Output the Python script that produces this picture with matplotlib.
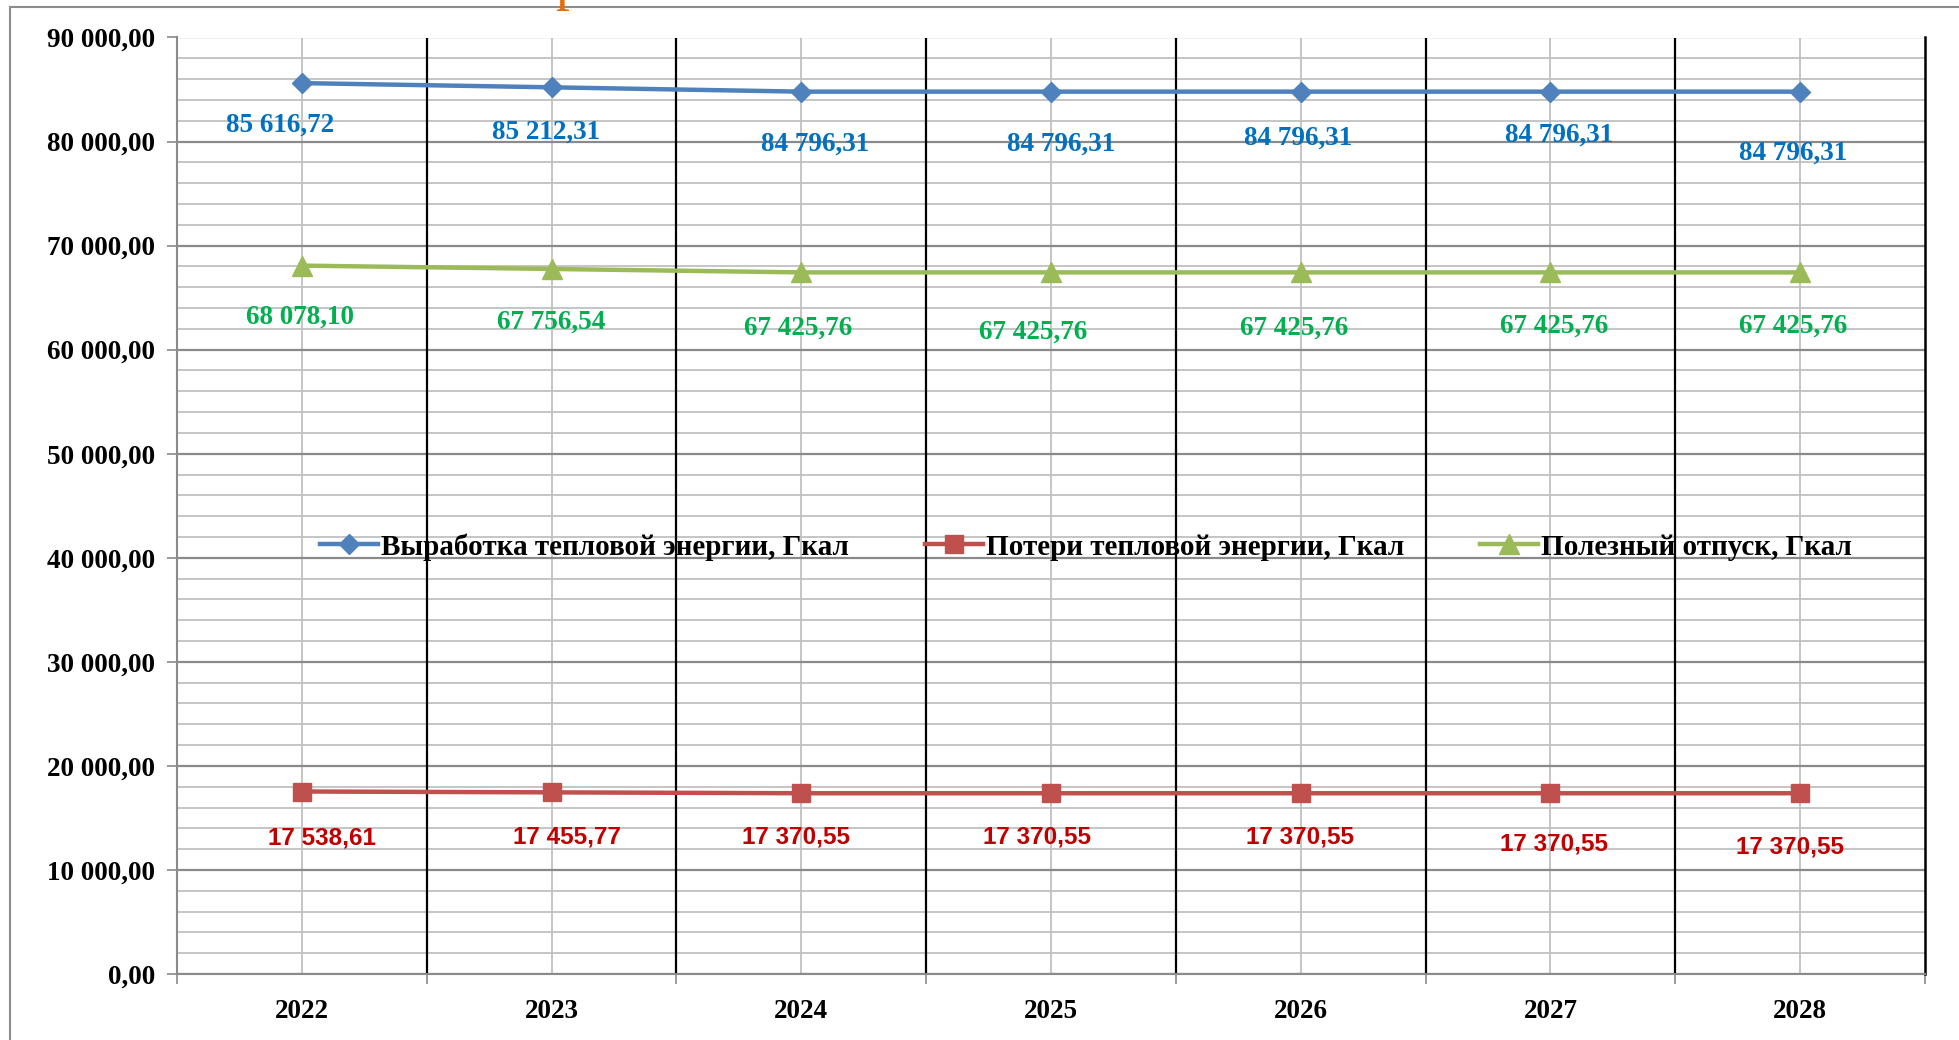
import matplotlib
matplotlib.use("Agg")
import matplotlib.pyplot as plt
from matplotlib.ticker import MultipleLocator, FuncFormatter
from matplotlib.patches import Rectangle

# данные
years = ["2022", "2023", "2024", "2025", "2026", "2027", "2028"]
vyrabotka = [85616.72, 85212.31, 84796.31, 84796.31, 84796.31, 84796.31, 84796.31]
poteri = [17538.61, 17455.77, 17370.55, 17370.55, 17370.55, 17370.55, 17370.55]
otpusk = [68078.10, 67756.54, 67425.76, 67425.76, 67425.76, 67425.76, 67425.76]
names = ["Выработка тепловой энергии, Гкал", "Потери тепловой энергии, Гкал", "Полезный отпуск, Гкал"]

# сдвиги подписей (в пикселях)
off_blue = [(-22, -42), (-6, -45), (14, -53), (10, -53), (-3, -47), (9, -44), (-7, -62)]
off_green = [(-2, -52), (0, -53), (-3, -56), (-18, -60), (-7, -56), (4, -54), (-7, -54)]
off_red = [(20, -46), (15, -45), (-5, -44), (-14, -44), (-1, -44), (4, -51), (-10, -54)]

def fmt(v, pos=None):
    s = f"{v:,.2f}"
    return s.replace(",", " ").replace(".", ",")

serif = "Liberation Serif"

fig = plt.figure(figsize=(19.59, 10.40), dpi=100)
ax = fig.add_axes([177 / 1959, 66 / 1040, 1748 / 1959, 936.5 / 1040])

# рамка вокруг диаграммы
fig.patches.append(Rectangle((10 / 1959, -0.1), 1.2, 1.1 - 7 / 1040, transform=fig.transFigure,
                             fill=False, edgecolor="#8c8c8c", linewidth=1.5))
# обрезанный кусок заголовка сверху
fig.text(569 / 1959, 1.0 + 1 / 1040, "р", color="#E46C0A", fontsize=40, family=serif,
         ha="center", va="baseline")

x = list(range(len(years)))
ax.set_xlim(-0.5, len(years) - 0.5)
ax.set_ylim(0, 90000)

# сетка
ax.yaxis.set_major_locator(MultipleLocator(10000))
ax.yaxis.set_minor_locator(MultipleLocator(2000))
ax.grid(which="minor", axis="y", color="#c0c0c0", linewidth=1.3)
ax.grid(which="major", axis="y", color="#8a8a8a", linewidth=1.6)
ax.set_xticks(x)
ax.set_xticklabels(years)
ax.set_xticks([i - 0.5 for i in range(len(years) + 1)], minor=True)
ax.grid(which="major", axis="x", color="#c0c0c0", linewidth=1.3)
for b in range(1, len(years)):
    ax.axvline(b - 0.5, color="black", linewidth=1.6, zorder=1)
ax.set_axisbelow(True)

ax.spines["top"].set_visible(False)
ax.spines["right"].set_color("black")
ax.spines["right"].set_linewidth(1.8)
ax.spines["left"].set_color("#8a8a8a")
ax.spines["bottom"].set_color("#8a8a8a")
ax.spines["left"].set_linewidth(1.5)
ax.spines["bottom"].set_linewidth(1.5)

ax.yaxis.set_major_formatter(FuncFormatter(fmt))
ax.tick_params(axis="y", which="major", length=7, color="#8a8a8a", width=1.2, pad=9)
ax.tick_params(axis="y", which="minor", length=0)
ax.tick_params(axis="x", which="major", length=0, pad=18)
ax.tick_params(axis="x", which="minor", length=7, color="#8a8a8a", width=1.2)
for lab in ax.get_xticklabels() + ax.get_yticklabels():
    lab.set_fontfamily(serif)
    lab.set_fontweight("bold")
    lab.set_fontsize(19.5)

# линии
ax.plot(x, vyrabotka, color="#4F81BD", linewidth=3.2, marker="D", markersize=10.5, label=names[0], zorder=3)
ax.plot(x, poteri, color="#C0504D", linewidth=3.2, marker="s", markersize=13, label=names[1], zorder=3)
ax.plot(x, otpusk, color="#9BBB59", linewidth=3.2, marker="^", markersize=15, label=names[2], zorder=3)

# подписи данных
for i in x:
    ax.annotate(fmt(vyrabotka[i]), (i, vyrabotka[i]), xytext=off_blue[i], textcoords="offset pixels",
                ha="center", va="center", color="#0070C0", fontsize=19.5, fontweight="bold", family=serif)
    ax.annotate(fmt(otpusk[i]), (i, otpusk[i]), xytext=off_green[i], textcoords="offset pixels",
                ha="center", va="center", color="#00B050", fontsize=19.5, fontweight="bold", family=serif)
    ax.annotate(fmt(poteri[i]), (i, poteri[i]), xytext=off_red[i], textcoords="offset pixels",
                ha="center", va="center", color="#C00000", fontsize=17.5, fontweight="bold",
                family="Liberation Sans")

leg = ax.legend(loc="center", bbox_to_anchor=(0.52, 0.456), ncol=3, frameon=False,
                handlelength=2.0, handletextpad=0.1, columnspacing=2.6,
                prop={"family": serif, "weight": "bold", "size": 21})

fig.savefig("out.png", dpi=100)
